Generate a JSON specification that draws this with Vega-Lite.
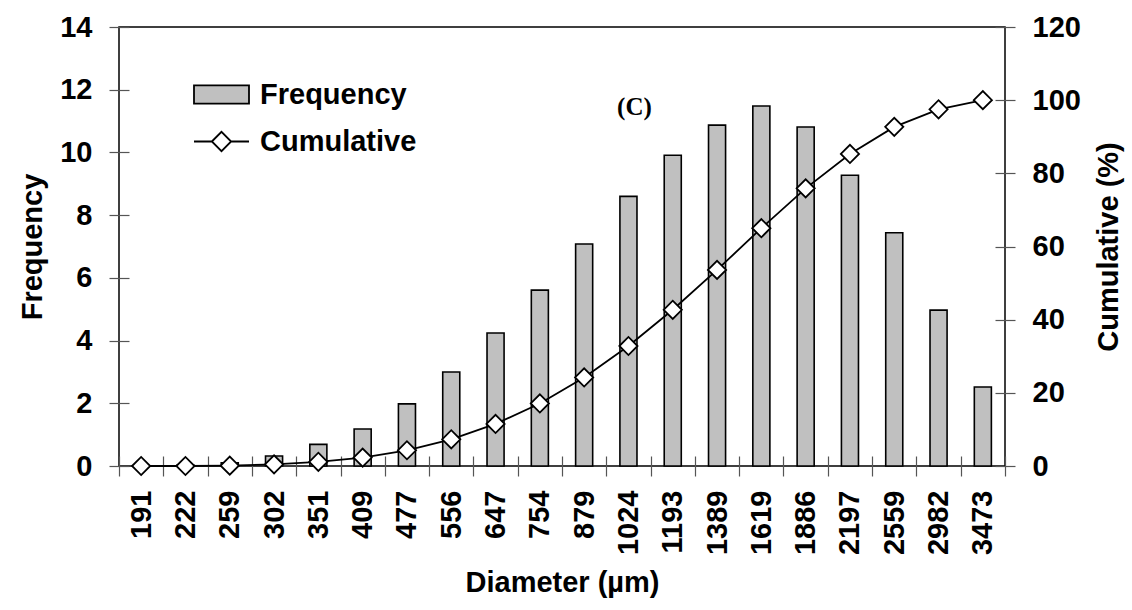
{
  "$schema": "https://vega.github.io/schema/vega-lite/v6.json",
  "width": 886,
  "height": 439,
  "autosize": "none",
  "padding": {"left": 119, "top": 27, "right": 127, "bottom": 144},
  "background": "white",
  "config": {
    "view": {"stroke": "black", "strokeWidth": 1.5},
    "font": "Liberation Sans",
    "axis": {
      "domain": false,
      "offset": -10,
      "tickColor": "#555555",
      "tickWidth": 1.2,
      "tickSize": 20,
      "grid": false,
      "labelFont": "Liberation Sans",
      "labelFontSize": 29,
      "labelFontWeight": "bold",
      "labelColor": "black",
      "titleFont": "Liberation Sans",
      "titleFontSize": 29,
      "titleFontWeight": "bold",
      "titleColor": "black"
    },
    "legend": {
      "orient": "none",
      "padding": 0,
      "labelFont": "Liberation Sans",
      "labelFontSize": 29,
      "labelFontWeight": "bold",
      "labelColor": "black",
      "labelOffset": 10,
      "symbolSize": 3025,
      "symbolStrokeColor": "black",
      "symbolStrokeWidth": 1.8,
      "symbolOpacity": 1
    }
  },
  "data": {
    "values": [
      {"d": "191", "freq": 0.0, "cum": 0.0},
      {"d": "222", "freq": 0.02, "cum": 0.0},
      {"d": "259", "freq": 0.1, "cum": 0.1},
      {"d": "302", "freq": 0.32, "cum": 0.45},
      {"d": "351", "freq": 0.69, "cum": 1.15},
      {"d": "409", "freq": 1.18, "cum": 2.3},
      {"d": "477", "freq": 1.98, "cum": 4.3},
      {"d": "556", "freq": 3.0, "cum": 7.3},
      {"d": "647", "freq": 4.24, "cum": 11.5},
      {"d": "754", "freq": 5.61, "cum": 17.1},
      {"d": "879", "freq": 7.08, "cum": 24.2},
      {"d": "1024", "freq": 8.6, "cum": 32.8},
      {"d": "1193", "freq": 9.91, "cum": 42.7},
      {"d": "1389", "freq": 10.87, "cum": 53.6},
      {"d": "1619", "freq": 11.48, "cum": 65.0},
      {"d": "1886", "freq": 10.81, "cum": 75.9},
      {"d": "2197", "freq": 9.27, "cum": 85.3},
      {"d": "2559", "freq": 7.44, "cum": 92.7},
      {"d": "2982", "freq": 4.97, "cum": 97.5},
      {"d": "3473", "freq": 2.52, "cum": 100.0}
    ]
  },
  "layer": [
    {
      "layer": [
        {
          "mark": {"type": "bar", "width": {"band": 0.385}, "stroke": "black", "strokeWidth": 1.6},
          "encoding": {
            "x": {
              "field": "d",
              "type": "nominal",
              "sort": null,
              "scale": {
                "type": "band",
                "domain": ["191", "222", "259", "302", "351", "409", "477", "556", "647", "754", "879", "1024", "1193", "1389", "1619", "1886", "2197", "2559", "2982", "3473"],
                "paddingInner": 0,
                "paddingOuter": 0
              },
              "axis": {
                "title": "Diameter (µm)",
                "labelAngle": -90,
                "labelPadding": 14,
                "titlePadding": 14,
                "tickBand": "extent"
              }
            },
            "y": {
              "field": "freq",
              "type": "quantitative",
              "scale": {"domain": [0, 14], "nice": false},
              "axis": {
                "title": "Frequency",
                "values": [0, 2, 4, 6, 8, 10, 12, 14],
                "labelPadding": 17,
                "titlePadding": 12
              }
            },
            "fill": {
              "datum": "Frequency",
              "type": "nominal",
              "scale": {"range": ["#c0c0c0"]},
              "legend": {
                "title": null,
                "symbolType": "M-1,-0.33H1V0.33H-1Z",
                "legendX": 74,
                "legendY": 39
              }
            }
          }
        },
        {
          "data": {"values": [{"label": "(C)", "d": "1024", "freq": 11.45}]},
          "mark": {
            "type": "text",
            "font": "Liberation Serif",
            "fontWeight": "bold",
            "fontSize": 25,
            "color": "black",
            "dx": 6
          },
          "encoding": {
            "x": {"field": "d", "type": "nominal", "sort": null},
            "y": {"field": "freq", "type": "quantitative"},
            "text": {"field": "label"}
          }
        }
      ]
    },
    {
      "layer": [
        {
          "mark": {"type": "line", "color": "black", "strokeWidth": 1.8},
          "encoding": {
            "x": {"field": "d", "type": "nominal", "sort": null},
            "y": {
              "field": "cum",
              "type": "quantitative",
              "scale": {"domain": [0, 120], "nice": false},
              "axis": {
                "orient": "right",
                "title": "Cumulative (%)",
                "values": [0, 20, 40, 60, 80, 100, 120],
                "labelPadding": 17,
                "titleAngle": -90,
                "titleBaseline": "top",
                "titlePadding": 14
              }
            }
          }
        },
        {
          "mark": {"type": "point", "shape": "diamond", "size": 330, "filled": true, "stroke": "black", "strokeWidth": 1.8, "opacity": 1},
          "encoding": {
            "x": {"field": "d", "type": "nominal", "sort": null},
            "y": {"field": "cum", "type": "quantitative"},
            "fill": {
              "datum": "Cumulative",
              "type": "nominal",
              "scale": {"range": ["white"]},
              "legend": {
                "title": null,
                "symbolType": "M-1,0H-0.35M0.35,0H1M-0.35,0L0,-0.35L0.35,0L0,0.35Z",
                "legendX": 74,
                "legendY": 86
              }
            }
          }
        }
      ]
    }
  ],
  "resolve": {"scale": {"y": "independent", "fill": "independent"}}
}
